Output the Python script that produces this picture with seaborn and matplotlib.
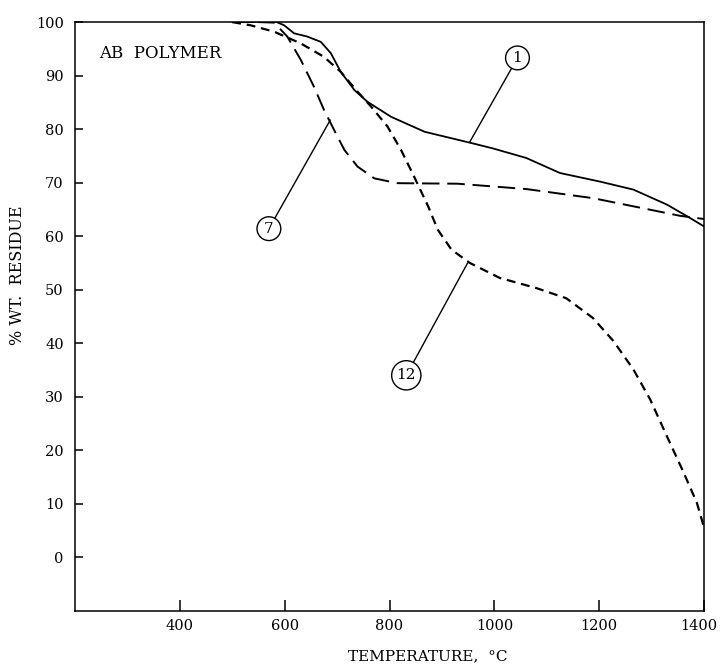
import matplotlib
matplotlib.use("Agg")
import matplotlib.pyplot as plt
import matplotlib.transforms as mtransforms
import seaborn as sns
import pandas as pd

# Thermogravimetric residue curves, AB polymer
temp_1 = [500, 540, 573, 599, 618, 643, 669, 688, 707, 733, 758, 803, 867, 956, 997, 1061,
          1125, 1201, 1265, 1329, 1373, 1400]
resid_1 = [100, 100, 100.5, 99.4, 97.9, 97.3, 96.3, 94.2, 90.7, 87.3, 85.1, 82.3, 79.5, 77.4,
           76.4, 74.6, 71.8, 70.2, 68.7, 65.9, 63.4, 61.8]

temp_7 = [500, 550, 580, 605, 631, 656, 675, 694, 714, 739, 771, 815, 930, 1061, 1188, 1284,
          1354, 1400]
resid_7 = [100, 100, 99.9, 97.3, 92.9, 87.9, 83.6, 79.9, 76.1, 73.0, 70.8, 69.9, 69.8, 68.8,
           67.1, 65.2, 63.8, 63.2]

temp_12 = [500, 535, 580, 631, 675, 707, 739, 765, 796, 822, 847, 874, 892, 918, 953, 1010,
           1080, 1137, 1188, 1227, 1265, 1297, 1329, 1361, 1386, 1400]
resid_12 = [100, 99.4, 98.2, 96.0, 93.5, 90.7, 87.0, 84.2, 80.5, 76.1, 71.1, 65.5, 61.2, 57.5,
            55.0, 52.2, 50.3, 48.4, 44.7, 40.4, 35.1, 29.5, 22.6, 15.8, 10.2, 5.5]

x_ticks = [400, 600, 800, 1000, 1200, 1400]
y_ticks = [0, 10, 20, 30, 40, 50, 60, 70, 80, 90, 100]

# curve labels: (text, point on curve, circle centre)
callouts = [
    ("1", (953, 77.6), (1044, 93.3)),
    ("7", (687, 81.7), (570, 61.4)),
    ("12", (949, 55.0), (832, 34.0)),
]

sns.set_style("ticks")
plt.rcParams["font.family"] = ["DejaVu Serif"]
plt.rcParams["axes.linewidth"] = 1.1

fig = plt.figure(figsize=(7.2, 6.69), dpi=100)
ax = fig.add_axes([0.104, 0.087, 0.874, 0.880])

curves = [
    (temp_1, resid_1, "-", 1.3),
    (temp_7, resid_7, (0, (9, 4)), 1.4),
    (temp_12, resid_12, (0, (4, 2.6)), 1.6),
]
for xs, ys, ls, lw in curves:
    df = pd.DataFrame({"temp": xs, "resid": ys})
    sns.lineplot(data=df, x="temp", y="resid", ax=ax, color="black",
                 linestyle=ls, linewidth=lw, estimator=None, sort=True)

ax.set_xlim(200, 1400)
ax.set_ylim(-10, 100)
ax.set_xticks(x_ticks)
ax.set_yticks(y_ticks)
ax.set_xticklabels([str(v) for v in x_ticks])
ax.set_yticklabels([str(v) for v in y_ticks])
ax.tick_params(axis="x", direction="in", length=8, width=1.1, pad=6,
               labelsize=10.5, colors="black")
ax.tick_params(axis="y", direction="in", length=6, width=1.1, pad=8,
               labelsize=10.5, colors="black")
for side in ["top", "right", "left", "bottom"]:
    ax.spines[side].set_visible(True)
    ax.spines[side].set_color("black")

# keep the right-most temperature label inside the figure edge
last = ax.get_xticklabels()[-1]
last.set_transform(last.get_transform()
                   + mtransforms.ScaledTranslation(-4 / 72, 0, fig.dpi_scale_trans))

ax.set_xlabel("TEMPERATURE,  °C", fontsize=11, color="black")
ax.set_ylabel("% WT.  RESIDUE", fontsize=11.5, color="black")
ax.xaxis.set_label_coords(0.56, -0.065)
ax.yaxis.set_label_coords(-0.078, 0.57)

ax.text(247, 94.2, "AB  POLYMER", fontsize=12, ha="left", va="center", color="black")

for label, pt, centre in callouts:
    ax.annotate(label, xy=pt, xytext=centre, textcoords="data",
                ha="center", va="center", fontsize=11, color="black",
                bbox=dict(boxstyle="circle,pad=0.32", fc="white", ec="black", lw=1.0),
                arrowprops=dict(arrowstyle="-", color="black", lw=1.0,
                                shrinkA=0, shrinkB=0))

fig.savefig("out.png", dpi=100, facecolor="white")
